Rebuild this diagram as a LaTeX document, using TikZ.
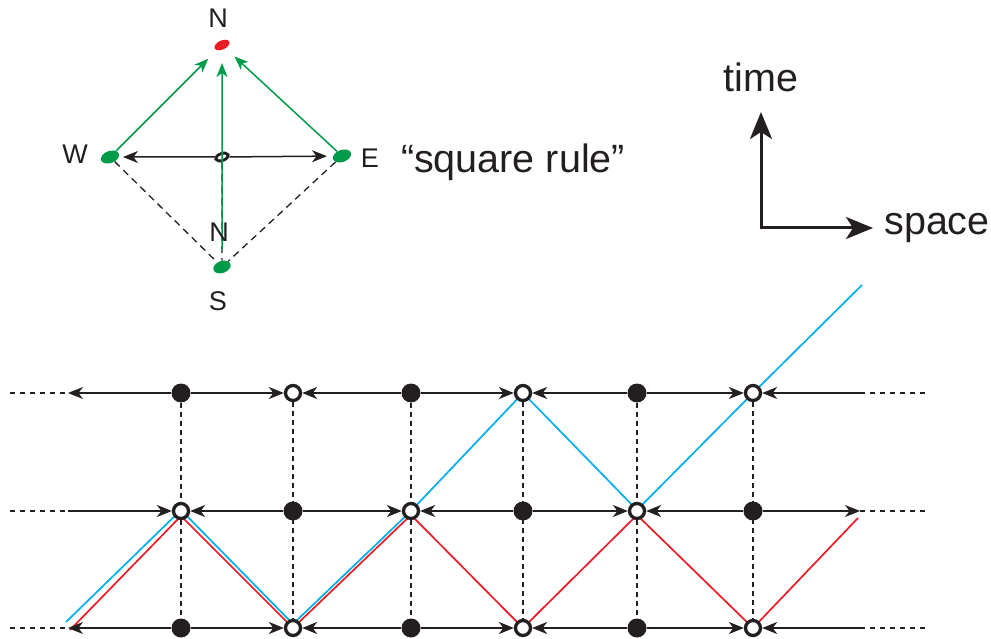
\documentclass[tikz,border=0pt]{standalone}
\usepackage{fontspec}
\setmainfont{Liberation Sans}
\usetikzlibrary{arrows.meta,shapes.geometric,backgrounds}
\definecolor{gr}{RGB}{0,155,72}
\definecolor{rd}{RGB}{237,28,36}
\definecolor{bl}{RGB}{0,174,239}
\definecolor{ink}{RGB}{35,31,32}
\begin{document}
\begin{tikzpicture}[x=1pt,y=-1pt,
  fil/.style={circle,fill=ink,minimum size=19pt,inner sep=0pt},
  opn/.style={circle,draw=ink,line width=3.3pt,fill=white,minimum size=15pt,inner sep=0pt},
  arr/.style={line width=1.5pt,draw=ink,-{Stealth[length=15pt,width=12pt,inset=4.5pt]}},
  garr/.style={line width=1.5pt,draw=gr,-{Stealth[length=14pt,width=11pt,inset=4pt]}},
  vdash/.style={line width=1.5pt,draw=ink,dash pattern=on 5pt off 4pt},
  tdash/.style={line width=1.3pt,draw=ink,dash pattern=on 7pt off 5pt},
  edash/.style={line width=1.5pt,draw=ink,dash pattern=on 5pt off 5pt},
  axarr/.style={line width=3pt,draw=ink,-{Stealth[length=27pt,width=22pt,inset=7pt]}},
  letter/.style={font=\fontsize{27}{30}\selectfont,text=ink,inner sep=0pt},
  word/.style={font=\fontsize{39.5}{46}\selectfont,text=ink,inner sep=0pt,anchor=base},
  dotel/.style={ellipse,inner sep=0pt}]
\useasboundingbox (0,0) rectangle (991,639);

% ---------- top "square rule" diagram ----------
\node[dotel,fill=rd,minimum width=16pt,minimum height=9pt,rotate=25] (Nn) at (222,45) {};
\node[dotel,fill=gr,minimum width=19pt,minimum height=12pt,rotate=20] (W) at (110,157) {};
\node[dotel,fill=gr,minimum width=19pt,minimum height=12pt,rotate=20] (E) at (342,156) {};
\node[dotel,fill=gr,minimum width=18pt,minimum height=12pt,rotate=20] (S) at (222,267) {};
\node[dotel,draw=ink,line width=2.8pt,minimum width=13pt,minimum height=7pt,rotate=20] (C) at (222,157) {};

\begin{scope}[on background layer]
  \draw[tdash] (W) -- (S);
  \draw[tdash] (E) -- (S);
  \draw[tdash] (C) -- (S);
\end{scope}
\draw[arr,shorten >=4pt] (C) -- (W);
\draw[arr,shorten >=6pt] (C) -- (E);
\draw[garr,shorten >=12pt] (W) -- (Nn);
\draw[garr,shorten >=12pt] (E) -- (Nn);
\draw[garr,shorten <=11pt,shorten >=13pt] (S) -- (Nn);

\node[letter] (lNt) at (218,18) {N};
\node[letter] (lW) at (75,154) {W};
\node[letter] (lE) at (370,158) {E};
\node[letter] (lNb) at (219,232) {N};
\node[letter] (lS) at (218,301) {S};
\node[word] (sq) at (513,173) {“square rule”};

% ---------- axes ----------
\coordinate (Ao) at (761,228);
\coordinate (At) at (761,112);
\coordinate (As) at (873,228);
\draw[axarr] ([yshift=1.5pt]Ao) -- (At);
\draw[axarr] ([xshift=-1.5pt]Ao) -- (As);
\node[word] (tm) at (761,92) {time};
\node[word] (sp) at (937,235) {space};

% ---------- lattice ----------
\foreach \c/\x in {1/181,2/293,3/411,4/523,5/637,6/753}{
  \foreach \r/\y in {1/393,2/511,3/628}{
    \pgfmathtruncatemacro{\parity}{mod(\c+\r,2)}
    \ifnum\parity=0
      \node[fil] (n\c\r) at (\x,\y) {};
    \else
      \node[opn] (n\c\r) at (\x,\y) {};
    \fi
  }
}
\foreach \r/\y in {1/393,2/511,3/628}{
  \coordinate (L\r) at (68,\y);
  \coordinate (R\r) at (860,\y);
  \coordinate (LL\r) at (10,\y);
  \coordinate (RR\r) at (925,\y);
  \draw[edash] (LL\r) -- (L\r);
  \draw[edash] (R\r) -- (RR\r);
}

\begin{scope}[on background layer]
  \foreach \c in {1,...,6}{ \draw[vdash] (n\c1) -- (n\c3); }
  \draw[rd,line width=1.7pt] (70,630) -- (181,516) -- (293,628) -- (411,515)
     -- (523,628) -- (637,515) -- (753,628) -- (858,518);
  \draw[bl,line width=1.7pt] (66,622) -- (181,510) -- (293,624) -- (411,511)
     -- (523,393) -- (637,510) -- (753,393) -- (862,285);
\end{scope}

% rows 1 and 3
\foreach \r in {1,3}{
  \draw[arr] (n1\r) -- (L\r);
  \draw[arr] (n1\r) -- (n2\r);
  \draw[arr] (n3\r) -- (n2\r);
  \draw[arr] (n3\r) -- (n4\r);
  \draw[arr] (n5\r) -- (n4\r);
  \draw[arr] (n5\r) -- (n6\r);
  \draw[arr] (R\r) -- (n6\r);
}
% row 2
\draw[arr] (L2) -- (n12);
\draw[arr] (n22) -- (n12);
\draw[arr] (n22) -- (n32);
\draw[arr] (n42) -- (n32);
\draw[arr] (n42) -- (n52);
\draw[arr] (n62) -- (n52);
\draw[arr] (n62) -- (R2);
\end{tikzpicture}
\end{document}
